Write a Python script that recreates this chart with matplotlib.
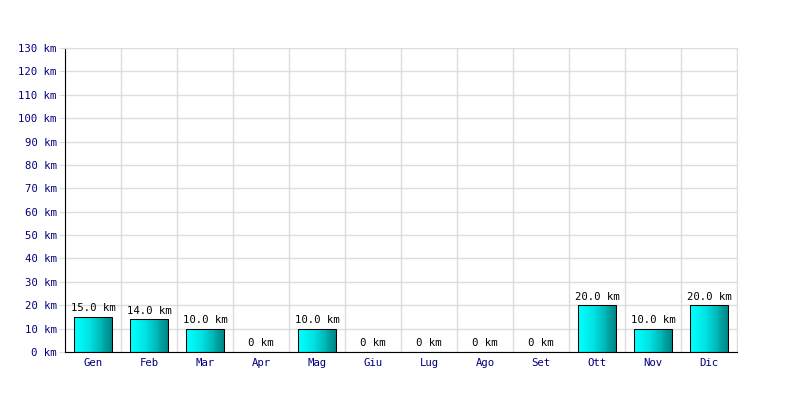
import matplotlib
matplotlib.use("Agg")
import matplotlib.pyplot as plt
import numpy as np
from matplotlib.colors import LinearSegmentedColormap

months = ["Gen", "Feb", "Mar", "Apr", "Mag", "Giu", "Lug", "Ago", "Set", "Ott", "Nov", "Dic"]
values = [15.0, 14.0, 10.0, 0, 10.0, 0, 0, 0, 0, 20.0, 10.0, 20.0]
yticks = list(range(0, 140, 10))

plt.rcParams['font.family'] = ['DejaVu Sans Mono']
fig = plt.figure(figsize=(8, 4), dpi=100)
ax = fig.add_axes([65/800, 48/400, 672/800, 304/400])
x = np.arange(len(months))
width = 0.68

cmap = LinearSegmentedColormap.from_list(
    "g", [(0, "#00ffff"), (0.4, "#00e4e4"), (0.7, "#00b8b8"), (1, "#008888")])
nslices = 40
bars = ax.bar(x, values, width=width, color="none", edgecolor="black", linewidth=0.75, zorder=3)
for b in bars:
    h = b.get_height()
    if h > 0:
        x0 = b.get_x()
        w = b.get_width() / nslices
        lefts = x0 + np.arange(nslices) * w
        cols = cmap(np.linspace(0, 1, nslices))
        ax.bar(lefts, [h] * nslices, width=w * 1.02, align="edge", color=cols,
               linewidth=0, zorder=2)
ax.set_xlim(-0.5, len(months) - 0.5)
ax.set_ylim(0, 130)

for xi, v in zip(x, values):
    lab = "0 km" if v == 0 else f"{v:.1f} km"
    ax.text(xi, v + 1.5, lab, ha="center", va="bottom", fontsize=7.7, color="black", zorder=4)

ax.set_yticks(yticks)
ax.set_yticklabels([f"{t} km" for t in yticks], color="#000080", fontsize=7.7)
ax.set_xticks(x)
ax.set_xticklabels(months, color="#000080", fontsize=7.7)
ax.set_xticks(np.arange(-0.5, len(months)), minor=True)
ax.grid(True, which="minor", axis="x", color="#dddddd", linewidth=1, zorder=0)
ax.grid(True, which="major", axis="y", color="#dddddd", linewidth=1, zorder=0)
ax.tick_params(axis="x", which="both", length=0, pad=4)
ax.tick_params(axis="y", length=4, color="#dddddd", pad=2)
for s in ["top", "right"]:
    ax.spines[s].set_color("#dddddd")
for s in ["left", "bottom"]:
    ax.spines[s].set_color("black")
ax.set_axisbelow(True)
fig.savefig("out.png", dpi=100, facecolor="white")
